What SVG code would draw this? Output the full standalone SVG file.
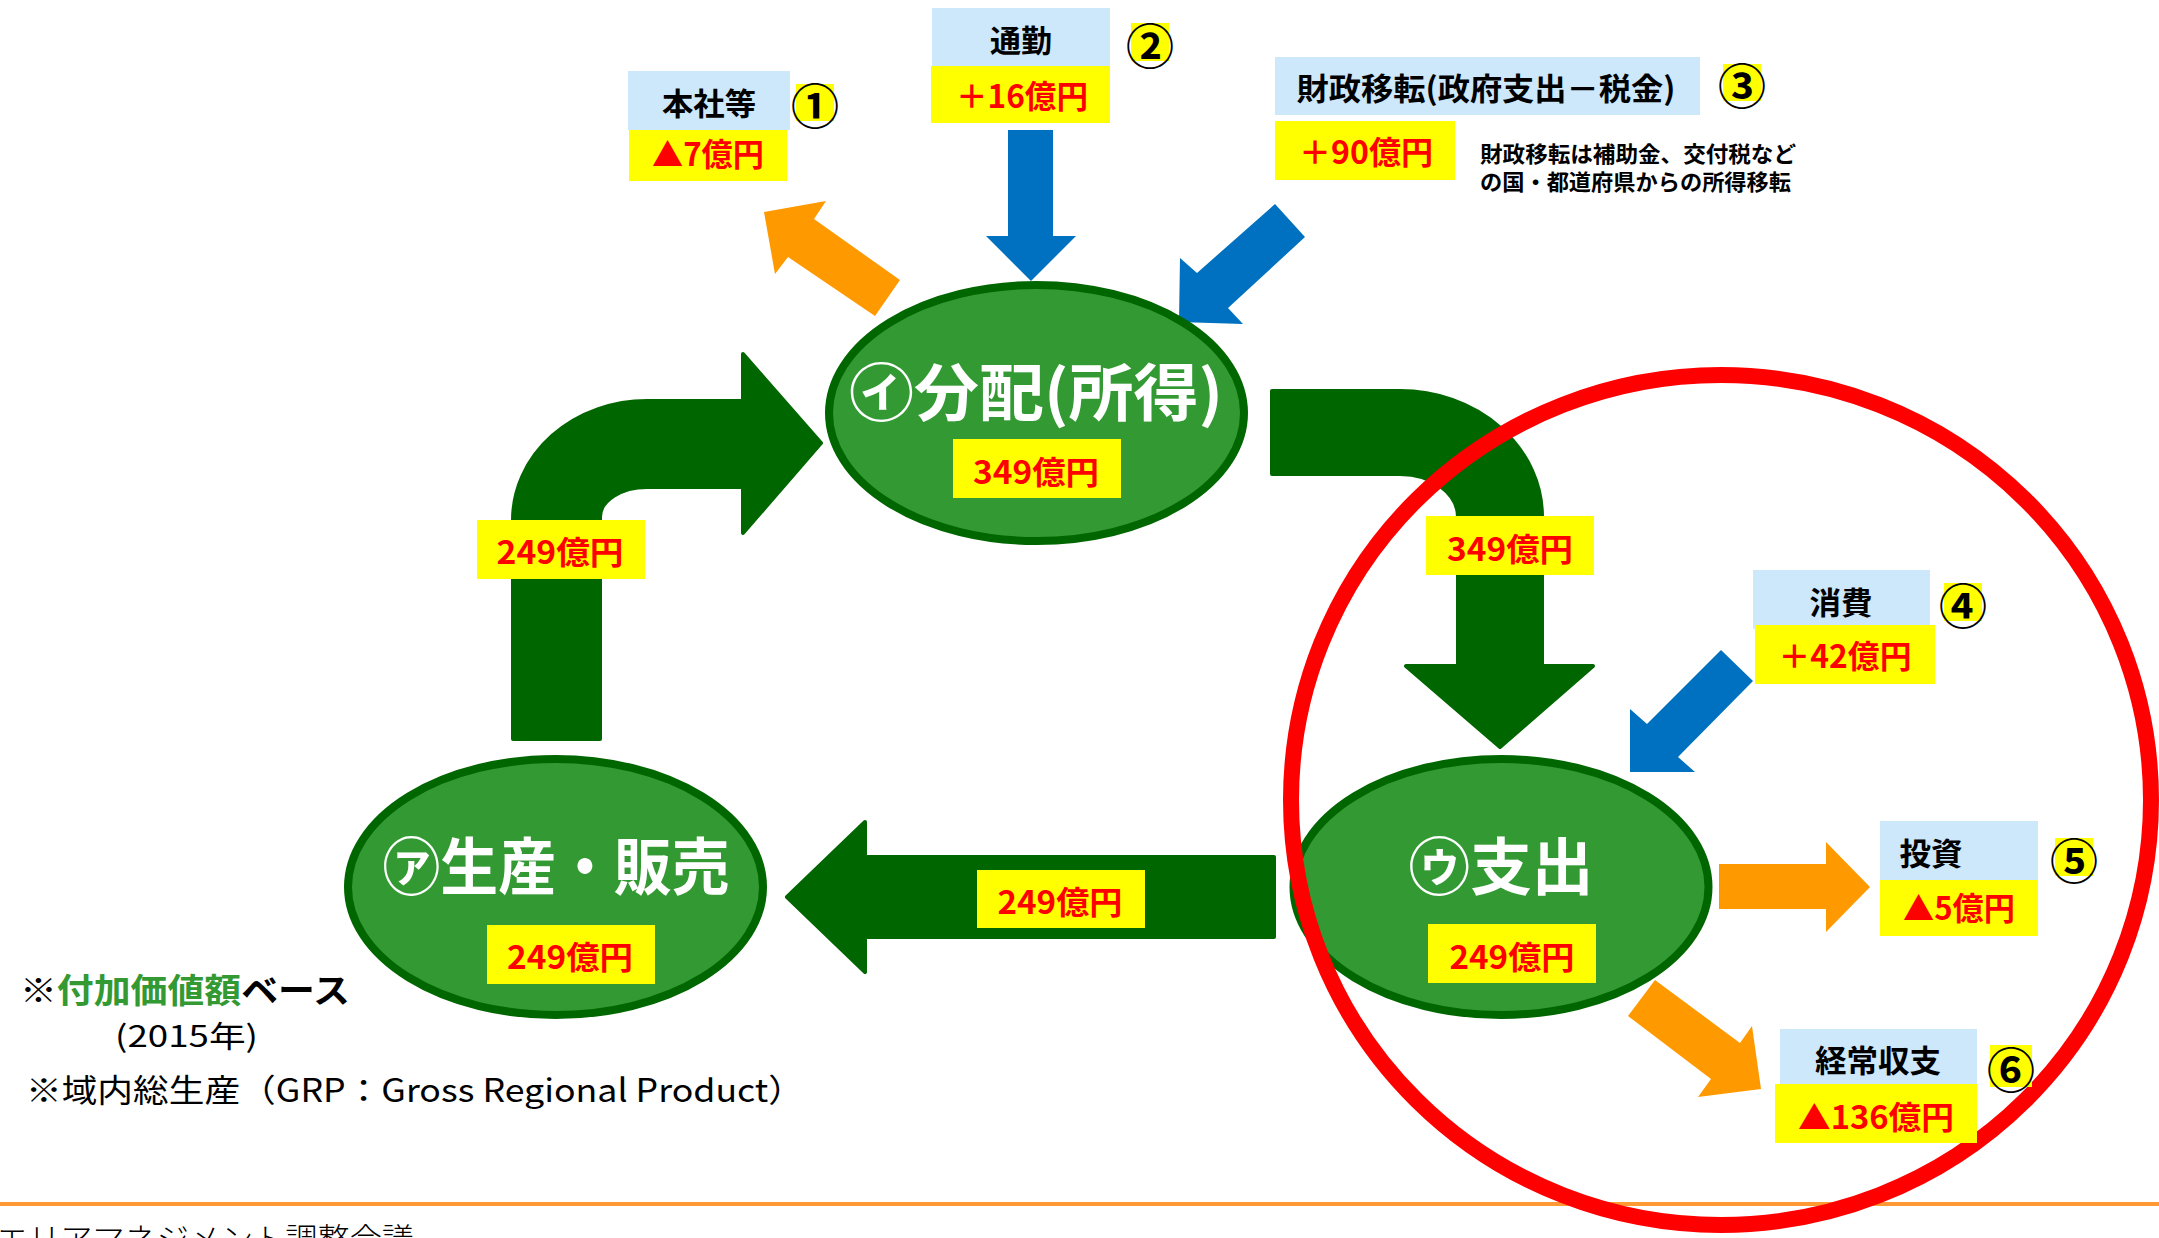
<svg xmlns="http://www.w3.org/2000/svg" width="2159" height="1238" viewBox="0 0 2159 1238">
<style>
text{font-family:"Noto Sans CJK JP","Noto Sans",sans-serif}
.gnode{fill:#339933;stroke:#006600;stroke-width:8}
.garr{fill:#006600;stroke:#006600;stroke-width:4;stroke-linejoin:round}
.barr{fill:#0070c0}
.oarr{fill:#ff9900}
.yl{fill:#ffff00}
.bl{fill:#cde7fb}
.t{font-weight:bold;text-anchor:middle;dominant-baseline:central}
.red{fill:#ff0000;font-size:32px}
.blk{fill:#000;font-size:31px}
.num{fill:#000;font-size:48px}
.title{fill:#fff;font-size:62px}
</style>
<rect width="2159" height="1238" fill="#fff"/>
<line x1="0" y1="1204" x2="2159" y2="1204" stroke="#ff9933" stroke-width="4"/>

<g id="connectors">
  <path class="garr" d="M513 739 L513 520 A134 119 0 0 1 647 401 L743 401 L743 354 L821 443 L743 533 L743 487 L647 487 A47 30 0 0 0 600 517 L600 739 Z"/>
  <path class="garr" d="M1272 391 L1400 391 A142 126 0 0 1 1542 517 L1542 666 L1593 666 L1500 747 L1406 666 L1458 666 L1458 517 A58 43 0 0 0 1400 474 L1272 474 Z"/>
  <path class="garr" d="M1274 857 L865 857 L865 822 L787 897 L865 972 L865 937 L1274 937 Z"/>
  <polygon class="oarr" points="764,212 826,201 814,219 900,280 875,316 788,257 775,274"/>
  <polygon class="barr" points="1008,130 1053,130 1053,236 1076,236 1031,281 986,236 1008,236"/>
  <polygon class="barr" points="1275,204 1305,237 1228,308 1243,324 1179,322 1180,258 1197,273"/>
  <polygon class="barr" points="1721,650 1753,681 1678,757 1695,772 1630,772 1630,709 1647,724"/>
  <polygon class="oarr" points="1719,864 1826,864 1826,842 1870,887 1826,932 1826,909 1719,909"/>
  <polygon class="oarr" points="1655,980 1740,1043 1752,1026 1761,1089 1698,1097 1711,1079 1628,1016"/>
  <g id="flow-labels">
    <rect class="yl" x="477" y="520" width="168" height="59"/>
    <text class="t red" x="560" y="550" textLength="127" lengthAdjust="spacingAndGlyphs">249億円</text>
    <rect class="yl" x="1426" y="516" width="168" height="59"/>
    <text class="t red" x="1510" y="547" textLength="126" lengthAdjust="spacingAndGlyphs">349億円</text>
    <rect class="yl" x="977" y="870" width="168" height="58"/>
    <text class="t red" x="1060" y="900" textLength="125" lengthAdjust="spacingAndGlyphs">249億円</text>
  </g>
</g>

<g id="node-bunpai">
  <ellipse class="gnode" cx="1036.5" cy="413" rx="207.5" ry="128"/>
  <text class="t title" x="1036" y="389" textLength="374" lengthAdjust="spacingAndGlyphs">㋑分配(所得)</text>
  <rect class="yl" x="953" y="439" width="168" height="59"/>
  <text class="t red" x="1036" y="470" textLength="126" lengthAdjust="spacingAndGlyphs">349億円</text>
</g>

<g id="node-seisan">
  <ellipse class="gnode" cx="555.5" cy="887" rx="207.5" ry="128"/>
  <text class="t title" x="556" y="863" textLength="347" lengthAdjust="spacingAndGlyphs">㋐生産・販売</text>
  <rect class="yl" x="487" y="925" width="168" height="59"/>
  <text class="t red" x="570" y="955" textLength="126" lengthAdjust="spacingAndGlyphs">249億円</text>
</g>

<g id="node-shishutsu">
  <ellipse class="gnode" cx="1501" cy="887" rx="207.5" ry="128"/>
  <text class="t title" x="1501" y="863" textLength="185" lengthAdjust="spacingAndGlyphs">㋒支出</text>
  <rect class="yl" x="1428" y="924" width="168" height="59"/>
  <text class="t red" x="1512" y="955" textLength="125" lengthAdjust="spacingAndGlyphs">249億円</text>
</g>

<ellipse id="highlight" cx="1721" cy="800" rx="430" ry="425" fill="none" stroke="#ff0000" stroke-width="16"/>

<g id="item-1">
  <rect class="bl" x="628" y="71" width="162" height="59"/>
  <text class="t blk" x="709" y="101" textLength="94" lengthAdjust="spacingAndGlyphs">本社等</text>
  <rect class="yl" x="629" y="130" width="158" height="51"/>
  <text class="t red" x="708" y="152" textLength="112" lengthAdjust="spacingAndGlyphs">▲7億円</text>
  <rect class="yl" x="796" y="84" width="38" height="37"/>
  <text class="t num" x="815" y="103">①</text>
</g>

<g id="item-2">
  <rect class="bl" x="932" y="8" width="178" height="58"/>
  <text class="t blk" x="1021" y="38" textLength="62" lengthAdjust="spacingAndGlyphs">通勤</text>
  <rect class="yl" x="931" y="66" width="179" height="57"/>
  <text class="t red" x="1022" y="94" textLength="132" lengthAdjust="spacingAndGlyphs">＋16億円</text>
  <rect class="yl" x="1131" y="23" width="38" height="38"/>
  <text class="t num" x="1150" y="43">②</text>
</g>

<g id="item-3">
  <rect class="bl" x="1275" y="57" width="425" height="58"/>
  <text class="t blk" x="1486" y="86" textLength="379" lengthAdjust="spacingAndGlyphs">財政移転(政府支出－税金)</text>
  <rect class="yl" x="1275" y="121" width="180" height="59"/>
  <text class="t red" x="1366" y="150" textLength="134" lengthAdjust="spacingAndGlyphs">＋90億円</text>
  <rect class="yl" x="1723" y="64" width="38" height="37"/>
  <text class="t num" x="1742" y="83">③</text>
  <text x="1480" y="152" font-size="22" font-weight="bold" dominant-baseline="central" textLength="316" lengthAdjust="spacingAndGlyphs">財政移転は補助金、交付税など</text>
  <text x="1480" y="180" font-size="22" font-weight="bold" dominant-baseline="central" textLength="311" lengthAdjust="spacingAndGlyphs">の国・都道府県からの所得移転</text>
</g>

<g id="item-4">
  <rect class="bl" x="1753" y="570" width="177" height="59"/>
  <text class="t blk" x="1841" y="600" textLength="63" lengthAdjust="spacingAndGlyphs">消費</text>
  <rect class="yl" x="1755" y="625" width="180" height="59"/>
  <text class="t red" x="1845" y="654" textLength="133" lengthAdjust="spacingAndGlyphs">＋42億円</text>
  <rect class="yl" x="1944" y="583" width="38" height="38"/>
  <text class="t num" x="1963" y="603">④</text>
</g>

<g id="item-5">
  <rect class="bl" x="1880" y="821" width="158" height="59"/>
  <text class="t blk" x="1931" y="851" textLength="63" lengthAdjust="spacingAndGlyphs">投資</text>
  <rect class="yl" x="1880" y="880" width="158" height="56"/>
  <text class="t red" x="1959" y="906" textLength="112" lengthAdjust="spacingAndGlyphs">▲5億円</text>
  <rect class="yl" x="2055" y="838" width="38" height="38"/>
  <text class="t num" x="2074" y="858">⑤</text>
</g>

<g id="item-6">
  <rect class="bl" x="1780" y="1029" width="197" height="55"/>
  <text class="t blk" x="1878" y="1058" textLength="126" lengthAdjust="spacingAndGlyphs">経常収支</text>
  <rect class="yl" x="1775" y="1084" width="202" height="59"/>
  <text class="t red" x="1876" y="1115" textLength="156" lengthAdjust="spacingAndGlyphs">▲136億円</text>
  <rect class="yl" x="1990" y="1045" width="42" height="42"/>
  <text class="t num" x="2011" y="1067">⑥</text>
</g>

<g id="notes">
  <text x="20" y="988" font-size="34" font-weight="bold" dominant-baseline="central" textLength="330" lengthAdjust="spacingAndGlyphs">※<tspan fill="#339933">付加価値額</tspan>ベース</text>
  <text x="115" y="1034" font-size="30" dominant-baseline="central" textLength="143" lengthAdjust="spacingAndGlyphs">(2015年)</text>
  <text x="26" y="1088" font-size="32" dominant-baseline="central" textLength="778" lengthAdjust="spacingAndGlyphs">※域内総生産（GRP：Gross Regional Product）</text>
  <text x="-4" y="1251" font-size="32" font-weight="300" style="font-family:'Liberation Serif','Noto Sans CJK JP',serif" textLength="418" lengthAdjust="spacingAndGlyphs">エリアマネジメント調整会議</text>
</g>
</svg>
